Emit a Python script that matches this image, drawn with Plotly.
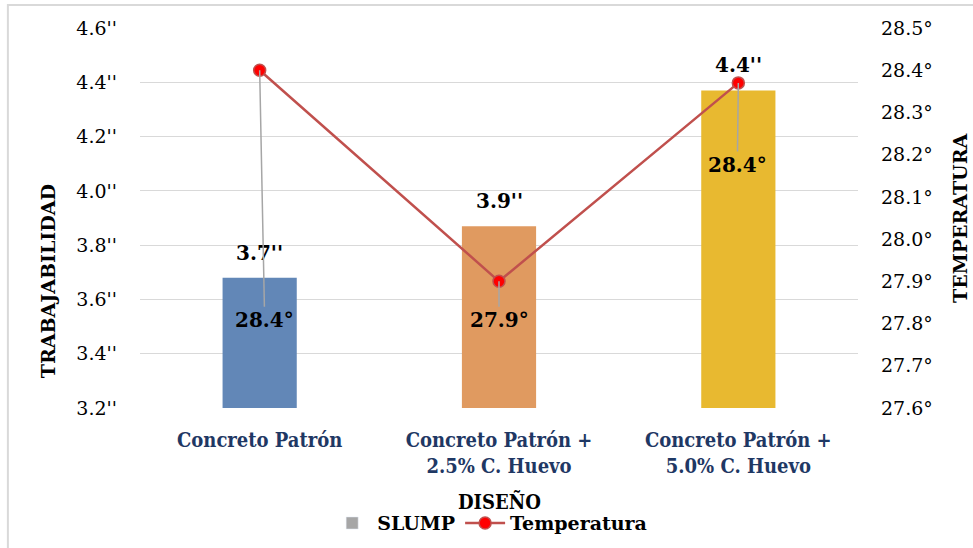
import plotly.graph_objects as go

# Mix designs (x categories)
designs = [
    "Concreto Patrón",
    "Concreto Patrón +<br>2.5% C. Huevo",
    "Concreto Patrón +<br>5.0% C. Huevo",
]
# Slump (inches) per design
slump = [3.68, 3.87, 4.37]
# Concrete temperature (degrees) per design
temperatura = [28.40, 27.90, 28.37]
bar_colors = ["#6287B7", "#E09A60", "#E8B930"]

left_ticks = [3.2, 3.4, 3.6, 3.8, 4.0, 4.2, 4.4, 4.6]
right_ticks = [27.6, 27.7, 27.8, 27.9, 28.0, 28.1, 28.2, 28.3, 28.4, 28.5]

# pixel offsets of the temperature labels from their points (leader lines)
temp_label_offsets = [(5, 250), (0, 39), (-1, 82)]

SERIF = "DejaVu Serif"
COND = "DejaVu Serif Condensed, DejaVu Serif"
NAVY = "#1F3864"

fig = go.Figure()

fig.add_trace(go.Bar(
    x=designs, y=slump, width=0.31,
    marker=dict(color=bar_colors, line=dict(width=0)),
    showlegend=False, name="SLUMP",
))
# legend entry for the slump series
fig.add_trace(go.Bar(
    x=[None], y=[None], name="<b>SLUMP</b>",
    marker=dict(color="#A6A6A6"),
))
fig.add_trace(go.Scatter(
    x=designs, y=temperatura, yaxis="y2", name="<b>Temperatura</b>",
    mode="lines+markers",
    line=dict(color="#C0504D", width=2.5),
    marker=dict(color="#FF0000", size=12, line=dict(color="#C0504D", width=1.5)),
))

annotations = []
for d, v in zip(designs, slump):
    annotations.append(dict(
        x=d, y=v, xref="x", yref="y", text=f"<b>{v:.1f}''</b>",
        showarrow=False, yshift=25,
        font=dict(family=SERIF, size=20, color="#000000"),
    ))
for d, t, (ax, ay) in zip(designs, temperatura, temp_label_offsets):
    annotations.append(dict(
        x=d, y=t, xref="x", yref="y2", text=f"<b>{t:.1f}°</b>",
        showarrow=True, arrowhead=0, arrowwidth=1.5, arrowcolor="#A6A6A6",
        ax=ax, ay=ay, standoff=0,
        font=dict(family=SERIF, size=20, color="#000000"),
    ))
annotations += [
    dict(text="<b>TRABAJABILIDAD</b>", xref="paper", yref="paper",
         x=-0.128, y=0.334, xanchor="center", yanchor="middle",
         textangle=-90, showarrow=False,
         font=dict(family=SERIF, size=19, color="#000000")),
    dict(text="<b>TEMPERATURA</b>", xref="paper", yref="paper",
         x=1.142, y=0.5, xanchor="center", yanchor="middle",
         textangle=-90, showarrow=False,
         font=dict(family=SERIF, size=19, color="#000000")),
    dict(text="<b>DISEÑO</b>", xref="paper", yref="paper",
         x=0.5, y=-0.247, xanchor="center", yanchor="middle", showarrow=False,
         font=dict(family=COND, size=20, color="#000000")),
]

fig.update_layout(
    width=973, height=548,
    margin=dict(l=140, r=115, t=28, b=140, autoexpand=False),
    paper_bgcolor="#FFFFFF", plot_bgcolor="#FFFFFF",
    font=dict(family=SERIF, color="#000000"),
    barmode="overlay",
    xaxis=dict(
        type="category", categoryorder="array", categoryarray=designs,
        showgrid=False, showline=False, ticks="",
        tickfont=dict(family=COND, size=20, color=NAVY, weight="bold"),
        ticklabelstandoff=18,
    ),
    yaxis=dict(
        range=[3.2, 4.6], tickvals=left_ticks,
        ticktext=[f"{v:.1f}''" for v in left_ticks],
        showgrid=True, gridcolor="#D9D9D9", gridwidth=1.3,
        zeroline=False, showline=False, ticks="",
        tickfont=dict(family=SERIF, size=19, color="#000000"),
        ticklabelstandoff=22,
    ),
    yaxis2=dict(
        range=[27.6, 28.5], tickvals=right_ticks,
        ticktext=[f"{v:.1f}°" for v in right_ticks],
        overlaying="y", side="right", showgrid=False,
        zeroline=False, showline=False, ticks="",
        tickfont=dict(family=SERIF, size=19, color="#000000"),
        ticklabelstandoff=22,
    ),
    legend=dict(
        orientation="h", x=0.487, y=-0.303, xanchor="center", yanchor="middle",
        font=dict(family=SERIF, size=19, color="#000000"),
        bgcolor="rgba(0,0,0,0)", itemwidth=40, tracegroupgap=0,
    ),
    annotations=annotations,
    shapes=[dict(
        type="rect", xref="paper", yref="paper", layer="below",
        x0=-0.184, x1=1.3, y0=-0.5, y1=1.0605,
        line=dict(color="#D9D9D9", width=2), fillcolor="rgba(0,0,0,0)",
    )],
)

fig.write_html("out.html")
